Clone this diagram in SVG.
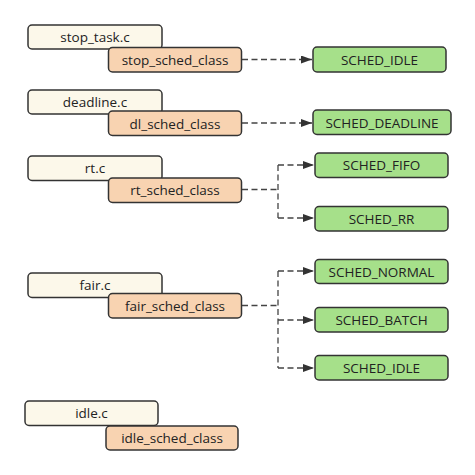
<svg xmlns="http://www.w3.org/2000/svg" width="475" height="475" viewBox="0 0 475 475">
<defs>
<marker id="arr" markerWidth="11" markerHeight="8" refX="11" refY="4" orient="auto" markerUnits="userSpaceOnUse">
<path d="M0,0 L11,4 L0,8 Z" fill="#333"/>
</marker>
<style>
.b{stroke:#333;stroke-width:1.5}
.src{fill:#fcf8ea}
.cls{fill:#f8d3b1}
.pol{fill:#a6e08a}
text{font-family:"Open Sans","Noto Sans",sans-serif;font-size:13.5px;fill:#222;text-anchor:middle;dominant-baseline:central}
.c{fill:none;stroke:#444;stroke-width:1.3;stroke-dasharray:6,3.5}
</style>
</defs>
<rect width="475" height="475" fill="#fff"/>
<g id="connectors">
<path class="c" d="M242,59.5 H312" marker-end="url(#arr)"/>
<path class="c" d="M242,123 H312" marker-end="url(#arr)"/>
<path class="c" d="M242,189.5 H278 M278,165 V218 M278,165 H314" marker-end="url(#arr)"/>
<path class="c" d="M278,218 H314" marker-end="url(#arr)"/>
<path class="c" d="M242,305.5 H278 M278,271 V368 M278,271 H314" marker-end="url(#arr)"/>
<path class="c" d="M278,320 H314" marker-end="url(#arr)"/>
<path class="c" d="M278,368 H314" marker-end="url(#arr)"/>
</g>
<g id="stop_task_c"><rect class="b src" x="28" y="25" width="134" height="24" rx="4"/><text x="95" y="37">stop_task.c</text></g>
<g id="stop_sched_class"><rect class="b cls" x="108.5" y="47.5" width="133" height="24.5" rx="4"/><text x="175" y="60">stop_sched_class</text></g>
<g id="sched_idle_1"><rect class="b pol" x="313" y="47" width="133" height="25" rx="4"/><text x="379.5" y="59.5">SCHED_IDLE</text></g>

<g id="deadline_c"><rect class="b src" x="28" y="90" width="134" height="24" rx="4"/><text x="95" y="102">deadline.c</text></g>
<g id="dl_sched_class"><rect class="b cls" x="108.5" y="111" width="133" height="24.5" rx="4"/><text x="175" y="123.5">dl_sched_class</text></g>
<g id="sched_deadline"><rect class="b pol" x="313" y="110" width="138" height="24.5" rx="4"/><text x="382" y="122.5">SCHED_DEADLINE</text></g>

<g id="rt_c"><rect class="b src" x="28" y="156" width="134" height="24.5" rx="4"/><text x="95" y="168">rt.c</text></g>
<g id="rt_sched_class"><rect class="b cls" x="108.5" y="178" width="133" height="24.5" rx="4"/><text x="175" y="190">rt_sched_class</text></g>
<g id="sched_fifo"><rect class="b pol" x="315" y="153" width="133" height="24.5" rx="4"/><text x="381.5" y="165">SCHED_FIFO</text></g>
<g id="sched_rr"><rect class="b pol" x="315" y="206.5" width="133" height="24.5" rx="4"/><text x="381.5" y="218.5">SCHED_RR</text></g>

<g id="fair_c"><rect class="b src" x="28" y="273" width="134" height="24.5" rx="4"/><text x="95" y="285">fair.c</text></g>
<g id="fair_sched_class"><rect class="b cls" x="108.5" y="293.5" width="133" height="24.5" rx="4"/><text x="175" y="305.5">fair_sched_class</text></g>
<g id="sched_normal"><rect class="b pol" x="315" y="259.5" width="133" height="24" rx="4"/><text x="381.5" y="271.5">SCHED_NORMAL</text></g>
<g id="sched_batch"><rect class="b pol" x="315" y="307.5" width="133" height="24.5" rx="4"/><text x="381.5" y="320">SCHED_BATCH</text></g>
<g id="sched_idle_2"><rect class="b pol" x="315" y="355.5" width="133" height="24.5" rx="4"/><text x="381.5" y="368">SCHED_IDLE</text></g>

<g id="idle_c"><rect class="b src" x="25" y="401" width="133" height="24.5" rx="4"/><text x="91.5" y="413">idle.c</text></g>
<g id="idle_sched_class"><rect class="b cls" x="106" y="426" width="132" height="24" rx="4"/><text x="172" y="438">idle_sched_class</text></g>
</svg>
